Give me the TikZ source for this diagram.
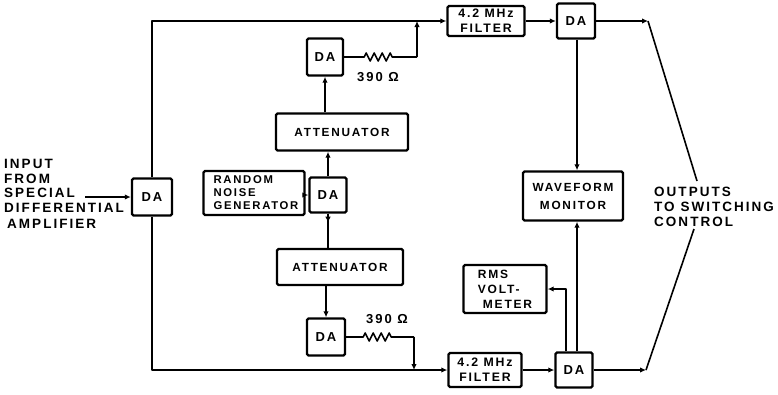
\documentclass[tikz,border=0pt]{standalone}
\usepackage{fontspec}
\newfontfamily\lbl{Liberation Sans}[LetterSpace=15]
\usetikzlibrary{arrows.meta}
\tikzset{
  blk/.style={draw, line width=2.4pt, rounded corners=1.5pt, inner sep=0pt, align=center,
    font=\lbl\bfseries\fontsize{11.8}{15}\selectfont},
  dabox/.style={blk, minimum width=37pt, minimum height=36pt, font=\lbl\bfseries\fontsize{13}{14}\selectfont},
  txt/.style={inner sep=0pt, align=left, font=\lbl\bfseries\fontsize{13}{14}\selectfont},
  big/.style={inner sep=0pt, align=left, font=\lbl\bfseries\fontsize{13.5}{14.8}\selectfont},
  wire/.style={line width=1.6pt, line join=round},
  arr/.style={wire, -{Latex[length=6pt,width=5.5pt]}},
}
\begin{document}
\begin{tikzpicture}[x=1pt,y=-1pt]
\useasboundingbox (0,0) rectangle (778,394);
% blocks
\node[dabox, minimum width=40pt, minimum height=37pt] (inDA) at (152,197) {DA};
\node[dabox, minimum width=36pt, minimum height=37pt] (topDA) at (325,57) {DA};
\node[blk, minimum width=132pt, minimum height=37pt] (att1) at (342,132) {ATTENUATOR};
\node[dabox, minimum width=37pt, minimum height=35pt] (midDA) at (328,195) {DA};
\node[blk, minimum width=101pt, minimum height=44pt, align=left,
      font=\lbl\bfseries\fontsize{11.3}{13}\selectfont] (rng) at (254,193) {\hspace*{4pt}RANDOM\\\hspace*{4pt}NOISE\\\hspace*{4pt}GENERATOR};
\node[blk, minimum width=126pt, minimum height=36pt] (att2) at (340,267) {ATTENUATOR};
\node[dabox, minimum width=38pt, minimum height=37pt] (botDA) at (326,337) {DA};
\node[blk, minimum width=77pt, minimum height=30pt,
      font=\lbl\bfseries\fontsize{12.3}{15}\selectfont] (filt1) at (486,21) {4.2 MHz\\FILTER};
\node[blk, minimum width=73pt, minimum height=34pt,
      font=\lbl\bfseries\fontsize{12.3}{15}\selectfont] (filt2) at (485,370) {4.2 MHz\\FILTER};
\node[dabox, minimum width=38pt, minimum height=35pt] (oDA1) at (576,21) {DA};
\node[dabox, minimum width=37pt, minimum height=35pt] (oDA2) at (574,370) {DA};
\node[blk, minimum width=100pt, minimum height=49pt] (wfm) at (573,196) {WAVEFORM\\[3pt]MONITOR};
\node[blk, minimum width=83pt, minimum height=48pt, align=left,
      font=\lbl\bfseries\fontsize{12}{15}\selectfont] (rms) at (505,289)
      {RMS\\VOLT-\\\hspace*{5pt}METER};
% texts
\node[big, anchor=west] (inlbl) at (4,194) {INPUT\\FROM\\SPECIAL\\DIFFERENTIAL\\[1.5pt]\hspace*{3pt}AMPLIFIER};
\node[big, anchor=west, font=\lbl\bfseries\fontsize{13.5}{15}\selectfont] (outlbl) at (654,207) {OUTPUTS\\TO SWITCHING\\CONTROL};
\node[txt] (r1lbl) at (378,77) {390 Ω};
\node[txt] (r2lbl) at (387,319) {390 Ω};
% coordinates
\coordinate (inp) at (85,197);
\coordinate (r1) at (417,57);
\coordinate (j1) at (417,21);
\coordinate (r2) at (414,337);
\coordinate (j2) at (414,370);
\coordinate (wx) at (577,0);
\coordinate (rx) at (566,0);
\coordinate (o1) at (648,21);
\coordinate (o1e) at (697,181);
\coordinate (o2) at (646,370);
\coordinate (o2e) at (694,229);
% connectors
\draw[arr] (inp) -- (inDA.west);
\draw[arr] (inDA.north) |- (filt1.west);
\draw[arr] (inDA.south) |- (filt2.west);
\draw[arr] (filt1.east) -- (oDA1.west);
\draw[arr] (filt2.east) -- (oDA2.west);
\draw[wire] (topDA.east) -- ++(20,0) -- ++(2,-4) -- ++(4,8) -- ++(4,-8) -- ++(4,8) -- ++(4,-8) -- ++(4,8) -- ++(4,-8) -- ++(2,4) -- (r1);
\draw[arr] (r1) -- (j1);
\draw[wire] (botDA.east) -- ++(17,0) -- ++(2,-4) -- ++(4,8) -- ++(4,-8) -- ++(4,8) -- ++(4,-8) -- ++(4,8) -- ++(4,-8) -- ++(2,4) -- (r2);
\draw[arr] (r2) -- (j2);
\draw[arr] (rng.east |- midDA.west) -- (midDA.west);
\draw[arr] (midDA.north) -- (midDA.north |- att1.south);
\draw[arr] (att1.north -| topDA) -- (topDA.south);
\draw[wire] (midDA.south) -- (midDA.south |- att2.north);
\draw[arr] (midDA.south) -- ++(0,9);
\draw[arr] (att2.south -| botDA) -- (botDA.north);
\draw[arr] (oDA1.south -| wx) -- (wfm.north -| wx);
\draw[arr] (oDA2.north -| wx) -- (wfm.south -| wx);
\draw[arr] (oDA2.north -| rx) |- (rms.east);
\draw[arr] (oDA1.east) -- (o1);
\draw[wire] (o1) -- (o1e);
\draw[arr] (oDA2.east) -- (o2);
\draw[wire] (o2) -- (o2e);
\end{tikzpicture}
\end{document}
